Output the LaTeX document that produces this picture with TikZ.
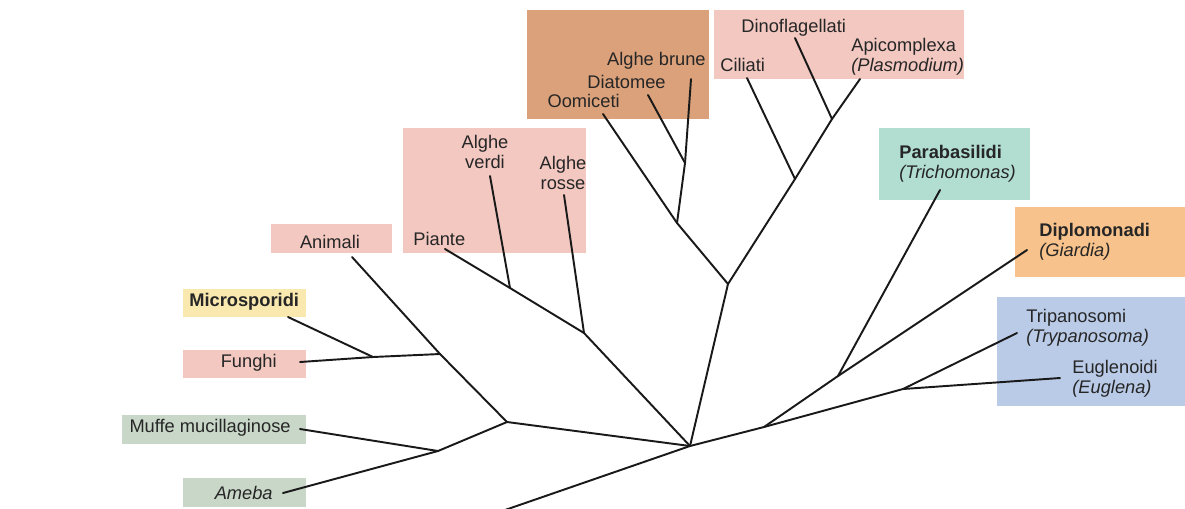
\documentclass[tikz,border=0pt]{standalone}
\usepackage{fontspec}
\setmainfont{Liberation Sans}
\usepackage{xcolor}
\usetikzlibrary{positioning}
\definecolor{tpink}{HTML}{F2C8C1}
\definecolor{tbrown}{HTML}{DBA17A}
\definecolor{tyellow}{HTML}{FAE9AF}
\definecolor{tsage}{HTML}{C8D7C8}
\definecolor{tteal}{HTML}{B2DED2}
\definecolor{torange}{HTML}{F7C28B}
\definecolor{tblue}{HTML}{BACBE8}
\definecolor{tink}{HTML}{262626}

\begin{document}
\begin{tikzpicture}[x=0.02cm, y=-0.02cm,
  taxon/.style={font=\fontsize{10.4}{11.5}\selectfont, text=tink, inner sep=0pt, align=left},
  branch/.style={draw=black!90, line width=1.1pt, line cap=round, line join=round}]
\useasboundingbox (0,0) rectangle (1185,508);
% coloured groups
\fill[tbrown] (527,10) rectangle (709,119);
\fill[tpink] (714,10) rectangle (964,79);
\fill[tpink] (403,128) rectangle (586,253);
\fill[tpink] (271,224) rectangle (392,253);
\fill[tyellow] (183,289) rectangle (306,317);
\fill[tpink] (183,350) rectangle (306,378);
\fill[tsage] (122,415) rectangle (306,444);
\fill[tsage] (183,478) rectangle (306,507);
\fill[tteal] (879,128) rectangle (1030,200);
\fill[torange] (1015,207) rectangle (1185,277);
\fill[tblue] (997,297) rectangle (1185,406);
% names
\node[taxon, anchor=east] (brune) at (706,61) {Alghe brune};
\node[taxon, anchor=east] (diatomee) at (666,82) {Diatomee};
\node[taxon, anchor=east] (oomiceti) at (620,101) {Oomiceti};
\node[taxon, anchor=west] (dinofl) at (741,28) {Dinoflagellati};
\node[taxon, anchor=west] (ciliati) at (720,65) {Ciliati};
\node[taxon, anchor=west] (apicom) at (851,57) {Apicomplexa\\\textit{(Plasmodium)}};
\node[taxon, align=center] (verdi) at (485,152) {Alghe\\verdi};
\node[taxon, align=center] (rosse) at (563,173) {Alghe\\rosse};
\node[taxon, anchor=west] (piante) at (413,239) {Piante};
\node[taxon] (animali) at (330,242) {Animali};
\node[taxon, anchor=west, font=\fontsize{10.4}{11.5}\selectfont\bfseries] (micro) at (189,302) {Microsporidi};
\node[taxon, anchor=east] (funghi) at (277,363) {Funghi};
\node[taxon, anchor=east] (muffe) at (291,428) {Muffe mucillaginose};
\node[taxon, anchor=east] (ameba) at (273,493) {\textit{Ameba}};
\node[taxon, anchor=west] (parab) at (899,164) {\textbf{Parabasilidi}\\\textit{(Trichomonas)}};
\node[taxon, anchor=west] (diplo) at (1039,242) {\textbf{Diplomonadi}\\\textit{(Giardia)}};
\node[taxon, anchor=west] (tripa) at (1026,328) {Tripanosomi\\\textit{(Trypanosoma)}};
\node[taxon, anchor=west] (eugle) at (1072,379) {Euglenoidi\\\textit{(Euglena)}};
% tips of the branches
\coordinate (tBrune) at (691,79);
\coordinate (tDiatomee) at (648,95);
\coordinate (tOomiceti) at (603,114);
\coordinate (tDinofl) at (795,38);
\coordinate (tCiliati) at (747,78);
\coordinate (tApicom) at (860,79);
\coordinate (tVerdi) at (490,176);
\coordinate (tRosse) at (564,195);
\coordinate (tPiante) at (445,249);
\coordinate (tAnimali) at (352,257);
\coordinate (tMicro) at (288,317);
\coordinate (tFunghi) at (300,362);
\coordinate (tMuffe) at (300,429);
\coordinate (tAmeba) at (283,493);
\coordinate (tParab) at (940,190);
\coordinate (tDiplo) at (1027,250);
\coordinate (tTripa) at (1017,333);
\coordinate (tEugle) at (1060,378);
\coordinate (tRoot) at (505,510);
% forks
\coordinate (jRoot) at (690,446);
\coordinate (jLeft) at (507,422);
\coordinate (jMuffe) at (438,451);
\coordinate (jOpist) at (440,354);
\coordinate (jFunghi) at (373,357);
\coordinate (jPlant) at (584,333);
\coordinate (jVerdi) at (510,288);
\coordinate (jChrom) at (728,284);
\coordinate (jStram) at (677,223);
\coordinate (jBrune) at (685,163);
\coordinate (jAlveo) at (795,179);
\coordinate (jDino) at (832,119);
\coordinate (jExca) at (764,427);
\coordinate (jDiplo) at (838,376);
\coordinate (jEugle) at (903,389);
% tree
\draw[branch] (tRoot) -- (jRoot);
\draw[branch] (jRoot) -- (jLeft);
\draw[branch] (jLeft) -- (jMuffe);
\draw[branch] (jMuffe) -- (tMuffe);
\draw[branch] (jMuffe) -- (tAmeba);
\draw[branch] (jLeft) -- (jOpist) -- (tAnimali);
\draw[branch] (jOpist) -- (jFunghi) -- (tFunghi);
\draw[branch] (jFunghi) -- (tMicro);
\draw[branch] (jRoot) -- (jPlant) -- (jVerdi) -- (tPiante);
\draw[branch] (jPlant) -- (tRosse);
\draw[branch] (jVerdi) -- (tVerdi);
\draw[branch] (jRoot) -- (jChrom);
\draw[branch] (jChrom) -- (jStram) -- (tOomiceti);
\draw[branch] (jStram) -- (jBrune) -- (tBrune);
\draw[branch] (jBrune) -- (tDiatomee);
\draw[branch] (jChrom) -- (jAlveo) -- (tCiliati);
\draw[branch] (jAlveo) -- (jDino) -- (tApicom);
\draw[branch] (jDino) -- (tDinofl);
\draw[branch] (jRoot) -- (jExca) -- (jEugle) -- (tEugle);
\draw[branch] (jEugle) -- (tTripa);
\draw[branch] (jExca) -- (jDiplo) -- (tDiplo);
\draw[branch] (jDiplo) -- (tParab);
\end{tikzpicture}
\end{document}
